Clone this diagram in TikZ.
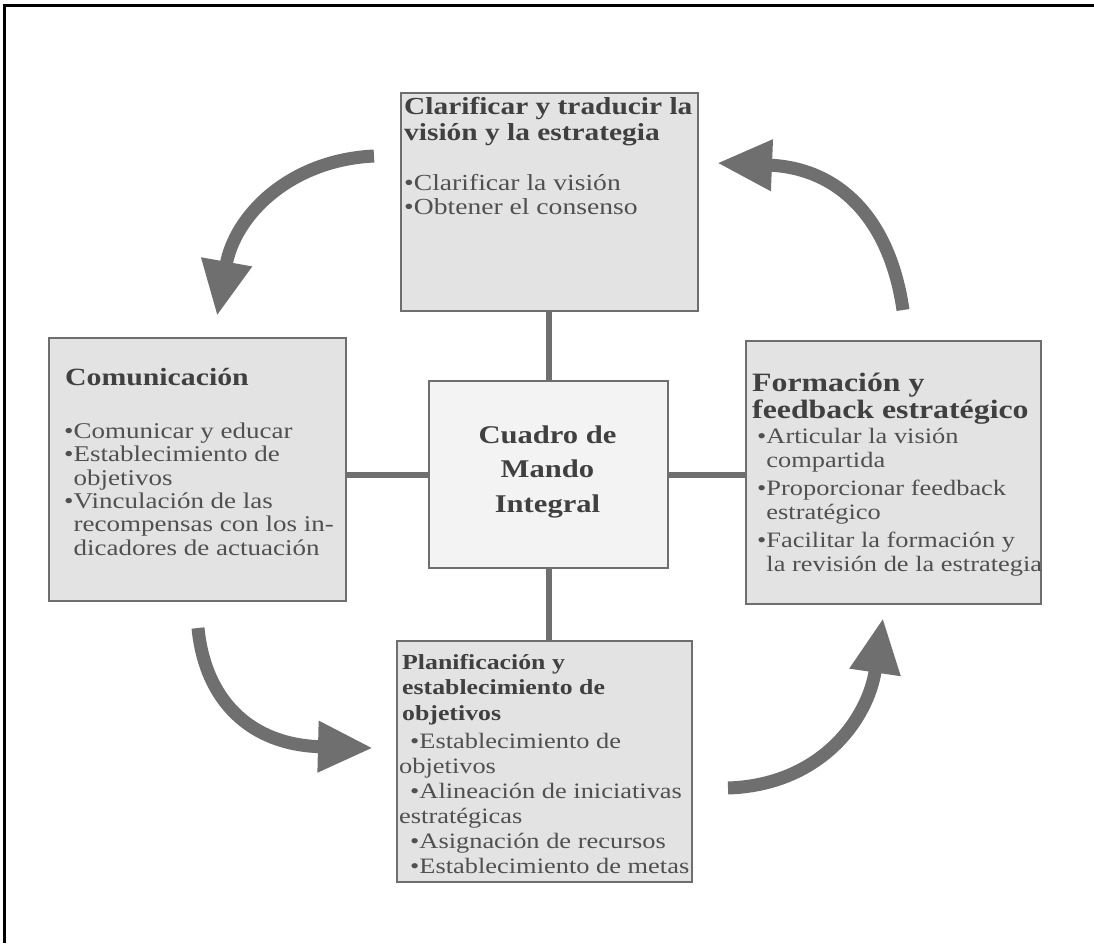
\documentclass[tikz,border=0pt]{standalone}
\usepackage{fontspec}
\setmainfont{Liberation Serif}[FakeStretch=1.2]
\usetikzlibrary{arrows.meta}
\definecolor{boxfill}{HTML}{E3E3E3}
\definecolor{corefill}{HTML}{F3F3F3}
\definecolor{boxline}{HTML}{6E6E6E}
\definecolor{inkdark}{HTML}{404040}
\definecolor{inkbody}{HTML}{505050}
\definecolor{flow}{HTML}{6F6F6F}
\tikzset{
  panel/.style={draw=boxline, line width=2.2pt, fill=boxfill, inner sep=0pt, anchor=north west},
  core/.style={draw=boxline, line width=2.2pt, fill=corefill, inner sep=0pt, anchor=north west},
  % multi-line text blocks are placed by the baseline of their last line
  heading/.style={anchor=base west, inner sep=0pt, align=left, text=inkdark},
  items/.style={anchor=base west, inner sep=0pt, align=left, text=inkbody},
  link/.style={draw=flow, line width=6pt},
  loopArrow/.style={draw=flow, line width=13pt, -{Triangle[length=55pt,width=48pt]}},
}
\begin{document}
\begin{tikzpicture}[x=1pt,y=-1pt]
\useasboundingbox (0,0) rectangle (1094,943);
\fill[white] (0,0) rectangle (1094,943);
% outer frame (top and left edges)
\draw[line width=3pt] (4.5,943) -- (4.5,5) -- (1094,5);

% panels
\node[panel, minimum width=297pt, minimum height=218pt] (vision) at (400,92) {};
\node[panel, minimum width=297pt, minimum height=263pt] (comms) at (48,337) {};
\node[panel, minimum width=295pt, minimum height=263pt] (learn) at (745,340) {};
\node[panel, minimum width=295pt, minimum height=241pt] (plan) at (396,640) {};
\node[core, minimum width=239pt, minimum height=187pt] (bsc) at (428,380) {};

% links between the centre and the panels
\draw[link] (bsc.north) -- (bsc.north |- vision.south);
\draw[link] (bsc.south) -- (bsc.south |- plan.north);
\draw[link] (bsc.west) -- (bsc.west -| comms.east);
\draw[link] (bsc.east) -- (bsc.east -| learn.west);

% centre text
\node[anchor=base, inner sep=0pt, align=center, text=inkdark,
      font=\fontsize{25.5}{34.5}\selectfont\bfseries] (bscT) at (547.5,512)
  {Cuadro de\\Mando\\Integral};

% top panel
\node[heading, font=\fontsize{24.5}{26}\selectfont\bfseries] (visionT) at (404,140)
  {Clarificar y traducir la\\visión y la estrategia};
\node[items, font=\fontsize{23}{24}\selectfont] (visionL) at (404,214)
  {•Clarificar la visión\\•Obtener el consenso};

% left panel
\node[heading, font=\fontsize{24.8}{26}\selectfont\bfseries] (commsT) at (65,385)
  {Comunicación};
\node[items, font=\fontsize{22.5}{23.3}\selectfont] (commsL) at (64,555)
  {•Comunicar y educar\\
   •Establecimiento de\\
   \phantom{•}objetivos\\
   •Vinculación de las\\
   \phantom{•}recompensas con los in-\\
   \phantom{•}dicadores de actuación};

% right panel
\node[heading, font=\fontsize{26.5}{27}\selectfont\bfseries] (learnT) at (752,418)
  {Formación y\\feedback estratégico};
\node[items, font=\fontsize{22}{24}\selectfont] (learnL) at (757,571)
  {•Articular la visión\\
   \phantom{•}compartida\\[4pt]
   •Proporcionar feedback\\
   \phantom{•}estratégico\\[4pt]
   •Facilitar la formación y\\
   \phantom{•}la revisión de la estrategia};

% bottom panel
\node[heading, font=\fontsize{21.5}{25.5}\selectfont\bfseries] (planT) at (402,720)
  {Planificación y\\establecimiento de\\objetivos};
\node[items, font=\fontsize{22}{25}\selectfont] (planL) at (399,873)
  {\hspace*{11pt}•Establecimiento de\\
   objetivos\\
   \hspace*{11pt}•Alineación de iniciativas\\
   estratégicas\\
   \hspace*{11pt}•Asignación de recursos\\
   \hspace*{11pt}•Establecimiento de metas};

% cycle arrows
\coordinate (a1s) at (374,156);
\coordinate (a1e) at (217,316);
\coordinate (a2s) at (903,310);
\coordinate (a2e) at (717,163);
\coordinate (a3s) at (198,628);
\coordinate (a3e) at (373,748);
\coordinate (a4s) at (728,788);
\coordinate (a4e) at (883,618);
\draw[loopArrow] (a1s) .. controls (290,160) and (235,215) .. (a1e);
\draw[loopArrow] (a2s) .. controls (890,220) and (840,168) .. (a2e);
\draw[loopArrow] (a3s) .. controls (205,700) and (250,745) .. (a3e);
\draw[loopArrow] (a4s) .. controls (820,785) and (868,720) .. (a4e);
\end{tikzpicture}
\end{document}
